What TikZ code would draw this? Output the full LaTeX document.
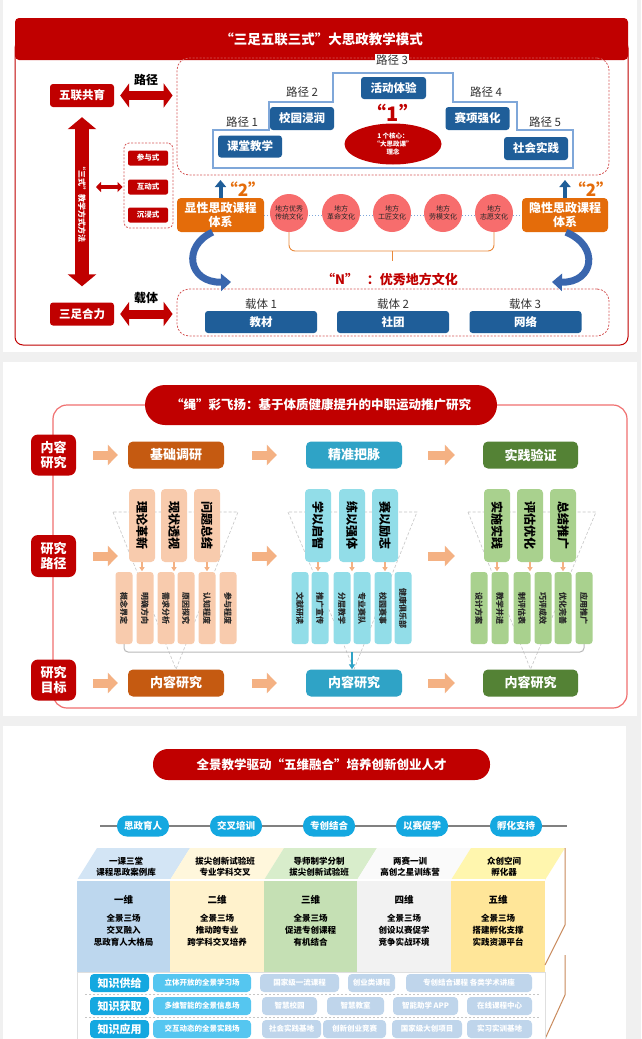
\documentclass[tikz,border=0pt]{standalone}
\usepackage{fontspec}
\setmainfont{Noto Sans CJK SC}
\usetikzlibrary{positioning,arrows.meta,shapes.geometric}

\definecolor{deepred}{HTML}{C00000}
\definecolor{pathblue}{HTML}{1F5E99}
\definecolor{stairblue}{HTML}{7FA7D9}
\definecolor{sysorange}{HTML}{E46C0A}
\definecolor{culturered}{HTML}{F76D6D}
\definecolor{curveblue}{HTML}{3A66AE}
\definecolor{outlinepink}{HTML}{F07070}
\definecolor{rustorange}{HTML}{C55A11}
\definecolor{paleorange}{HTML}{F8CBAD}
\definecolor{arroworange}{HTML}{F4B183}
\definecolor{tealbox}{HTML}{2FA3C6}
\definecolor{palecyan}{HTML}{92DDE8}
\definecolor{mossgreen}{HTML}{548235}
\definecolor{palegreen}{HTML}{A9D18E}
\definecolor{skyblue}{HTML}{14A8E0}
\definecolor{lightsky}{HTML}{55C6F0}
\definecolor{mistblue}{HTML}{BFD5EB}
\definecolor{cubebrown}{HTML}{C98A5C}
\definecolor{pagegray}{HTML}{F0F0F0}
\definecolor{topblue}{HTML}{D3E5F5}
\definecolor{frontblue}{HTML}{BDD7EE}
\definecolor{topcream}{HTML}{FFF7DC}
\definecolor{frontcream}{HTML}{FFF2CC}
\definecolor{topgreen}{HTML}{D8EDCB}
\definecolor{frontgreen}{HTML}{C5E0B4}
\definecolor{topgray}{HTML}{FAFAFA}
\definecolor{frontgray}{HTML}{F2F2F2}
\definecolor{topyellow}{HTML}{FFF6AE}
\definecolor{frontyellow}{HTML}{FFE699}

\newcommand{\fsz}[2]{\fontsize{#1}{#2}\selectfont}

\begin{document}
\begin{tikzpicture}[x=1pt, y=-1pt,
    redbox/.style={rectangle, rounded corners=3pt, fill=deepred, text=white, font=\fsz{11.5}{13}\bfseries, minimum width=64pt, minimum height=23pt, inner sep=0pt},
    bluebox/.style={rectangle, rounded corners=3pt, fill=pathblue, text=white, font=\fsz{11.5}{13}\bfseries, minimum width=64pt, minimum height=22pt, inner sep=0pt},
    smallred/.style={rectangle, rounded corners=2pt, fill=deepred, text=white, font=\fsz{7.5}{8}\bfseries, minimum width=40pt, minimum height=15pt, inner sep=0pt},
    dashzone/.style={rectangle, draw=deepred!65, dash pattern=on 2pt off 1.5pt, line width=0.8pt, rounded corners=12pt, inner sep=0pt},
    pathlabel/.style={font=\fsz{11.5}{13}, text=black!80, inner sep=1pt},
    orangebox/.style={rectangle, rounded corners=4pt, fill=sysorange, text=white, font=\fsz{12}{14}\bfseries, align=center, minimum width=87pt, minimum height=34pt, inner sep=0pt},
    culture/.style={circle, fill=culturered, minimum size=38pt, inner sep=0pt, font=\fsz{7}{8}, text=black!85, align=center},
    twolabel/.style={text=sysorange, font=\fsz{17}{17}\bfseries\itshape},
    redarrow/.style={draw=deepred, line width=9pt, {Triangle[width=24pt,length=9pt]}-{Triangle[width=24pt,length=9pt]}},
    bigvarrow/.style={draw=deepred, line width=14pt, {Triangle[width=28pt,length=12pt]}-{Triangle[width=28pt,length=12pt]}},
    smallarrow/.style={draw=deepred, line width=3.5pt, {Triangle[width=10pt,length=5pt]}-{Triangle[width=10pt,length=5pt]}},
    uparrow/.style={draw=pathblue, line width=4pt, -{Triangle[width=11pt,length=7pt]}},
    curvearrow/.style={draw=curveblue, line width=7pt, -{Triangle[width=17pt,length=10pt]}},
    goalbox/.style={rectangle, rounded corners=7pt, fill=deepred, text=white, font=\fsz{13}{15}\bfseries, align=center, minimum width=45pt, minimum height=41pt, inner sep=0pt},
    stagebox/.style={rectangle, rounded corners=5pt, text=white, font=\fsz{13}{15}\bfseries, minimum width=96pt, minimum height=27pt, inner sep=0pt},
    tallbox/.style={rectangle, rotate=-90, rounded corners=4pt, font=\fsz{12}{13}\bfseries, text=black, minimum width=73pt, minimum height=26pt, inner sep=0pt},
    slimbox/.style={rectangle, rotate=-90, rounded corners=3pt, font=\fsz{8}{9}\bfseries, text=black!85, minimum width=72pt, minimum height=17pt, inner sep=0pt},
    fatarrow/.style={draw=arroworange, line width=9pt, -{Triangle[width=20pt,length=10pt]}},
    tinyarrow/.style={draw=arroworange, line width=1.5pt, -{Triangle[width=5pt,length=4pt]}},
    funnel/.style={draw=gray!45, dash pattern=on 3pt off 2pt, line width=0.6pt},
    pill/.style={rectangle, rounded corners=10pt, fill=skyblue, text=white, font=\fsz{9.5}{11}\bfseries, minimum width=52pt, minimum height=21pt, inner sep=0pt},
    rowhead/.style={rectangle, rounded corners=4pt, fill=skyblue, text=white, font=\fsz{11}{12}\bfseries, minimum width=59pt, minimum height=18pt, inner sep=0pt},
    rowfield/.style={rectangle, rounded corners=4pt, fill=lightsky, text=white, font=\fsz{7.5}{8}\bfseries, minimum width=98pt, minimum height=18pt, inner sep=0pt},
    rowitem/.style={rectangle, rounded corners=4pt, fill=mistblue, text=white, font=\fsz{7.5}{8}\bfseries, minimum height=18pt, inner sep=0pt},
    ]
    \tikzstyle{every node}=[font=\fsz{11}{13}]
    \clip (0,0) rectangle (641,1039);
    %Cards
    \fill[pagegray] (0,0) rectangle (641,1039);
    \fill[white] (3,0) rectangle (637,352);
    \fill[white] (3,362) rectangle (637,716);
    \fill[white] (3,726) rectangle (626,1039);

    %Panel 1
    \draw[deepred, line width=1pt, rounded corners=8pt] (15,40) rectangle (628,345);
    \node[fill=deepred, rounded corners=4pt, minimum width=613pt, minimum height=42pt, text=white, font=\fsz{13.5}{15}\bfseries] (title1) at (321.5,39) {“三足五联三式”大思政教学模式};
    \node[redbox]      (wulian)   at (82,95.5) {五联共育};
    \node[redbox]      (sanzu)    at (82,314) {三足合力};
    \node[pathlabel, font=\fsz{12}{13}\bfseries, text=black] (lujinglab) at (146,80) {路径};
    \node[pathlabel, font=\fsz{12}{13}\bfseries, text=black] (zaitilab)  at (146,298) {载体};
    \node[dashzone, minimum width=432pt, minimum height=117pt] (pathzone) at (393,116.5) {};
    \node[dashzone, minimum width=432pt, minimum height=47pt] (carrierzone) at (393,312.5) {};
    \node[dashzone, minimum width=49pt, minimum height=85pt, rounded corners=5pt] (stylezone) at (148.5,185.5) {};
    \node[smallred]    (canyu)    at (148,158) {参与式};
    \node[smallred]    (hudong)   at (148,187) {互动式};
    \node[smallred]    (chenjin)  at (148,215) {沉浸式};
    \draw[redarrow, shorten <=6pt, shorten >=4pt] (wulian.east) -- (pathzone.west |- wulian.east);
    \draw[redarrow, shorten <=6pt, shorten >=4pt] (sanzu.east) -- (carrierzone.west |- sanzu.east);
    \draw[bigvarrow, shorten <=10pt, shorten >=16pt] (wulian.south) -- (sanzu.north);
    \node[rotate=-90, text=white, font=\fsz{8}{9}\bfseries] (sanshi) at (82,202) {“三式”教学方式方法};
    \coordinate (sjoin) at (96,187);
    \draw[smallarrow, shorten >=1pt] (sjoin) -- (stylezone.west |- sjoin);

    % stairs of the five paths
    \draw[stairblue, line width=1.2pt, fill=white] (213,168) -- (213,130) -- (269,130) -- (269,102) -- (333,102) -- (333,73) -- (453,73) -- (453,102) -- (517,102) -- (517,130) -- (573,130) -- (573,168) -- cycle;
    \node[bluebox] (ketang)   at (250,146.5) {课堂教学};
    \node[bluebox, minimum height=23pt] (xiaoyuan) at (302,118.5) {校园浸润};
    \node[bluebox, minimum width=65pt] (huodong)  at (393.5,88) {活动体验};
    \node[bluebox, minimum height=23pt] (saixiang) at (477.5,118.5) {赛项强化};
    \node[bluebox, minimum height=23pt] (shehui)   at (536,148.5) {社会实践};
    \node[pathlabel] (lj1) at (242,122) {路径 1};
    \node[pathlabel] (lj2) at (302,92) {路径 2};
    \node[pathlabel, fill=white] (lj3) at (392,60) {路径 3};
    \node[pathlabel] (lj4) at (486,92) {路径 4};
    \node[pathlabel] (lj5) at (545,122) {路径 5};
    \node[text=deepred, font=\fsz{20}{20}\bfseries\itshape] (one) at (393,113) {“1”};
    \node[ellipse, fill=deepred, minimum width=97pt, minimum height=41pt, inner sep=0pt, text=white, font=\fsz{6.5}{8}\bfseries, align=center] (core) at (393,144) {1 个核心：\\“大思政课”\\理念};

    % course systems and local culture
    \node[orangebox] (xianxing) at (220.5,215) {显性思政课程\\体系};
    \node[orangebox, minimum width=86pt] (yinxing) at (565,215) {隐性思政课程\\体系};
    \coordinate (upl) at (220.5,180);
    \coordinate (upr) at (565,180);
    \draw[uparrow] (xianxing.north) -- (upl);
    \draw[uparrow] (yinxing.north) -- (upr);
    \node[twolabel] (twol) at (243,189) {“2”};
    \node[twolabel] (twor) at (591,189) {“2”};
    \draw[stairblue, dotted, line width=1pt] (xianxing.east) -- (yinxing.west);
    \node[culture] (cult1) at (289,213) {地方优秀\\传统文化};
    \node[culture] (cult2) at (341,213) {地方\\革命文化};
    \node[culture] (cult3) at (392,213) {地方\\工匠文化};
    \node[culture] (cult4) at (443,213) {地方\\劳模文化};
    \node[culture] (cult5) at (494,213) {地方\\志愿文化};
    \coordinate (bracetip) at (392,251);
    \draw[sysorange!80, line width=0.9pt, rounded corners=6pt] (cult1.south) |- (bracetip);
    \draw[sysorange!80, line width=0.9pt, rounded corners=6pt] (cult5.south) |- (bracetip);
    \draw[sysorange!80, line width=0.9pt] (bracetip) -- ++(0,10);
    \node[text=deepred, font=\fsz{13}{15}\bfseries] (ncult) at (390,279) {“N”\ \ \ ：优秀地方文化};
    \coordinate (curvel) at (231,282);
    \coordinate (curver) at (552,282);
    \draw[curvearrow] ([xshift=-8pt]xianxing.south) .. controls (182,246) and (188,283) .. (curvel);
    \draw[curvearrow] ([xshift=1pt]yinxing.south) .. controls (600,246) and (594,283) .. (curver);

    % carriers
    \node[pathlabel] (zt1) at (261,304) {载体 1};
    \node[pathlabel] (zt2) at (393,304) {载体 2};
    \node[pathlabel] (zt3) at (525,304) {载体 3};
    \node[bluebox, minimum width=112pt] (jiaocai) at (261,322) {教材};
    \node[bluebox, minimum width=112pt] (shetuan) at (393,322) {社团};
    \node[bluebox, minimum width=112pt] (wangluo) at (525.5,322) {网络};

    %Panel 2
    \draw[outlinepink, line width=1.2pt, rounded corners=14pt] (53,405) rectangle (627,708);
    \node[fill=deepred, rounded corners=20pt, minimum width=352pt, minimum height=40pt, text=white, font=\fsz{12.5}{14}\bfseries] (title2) at (321,405) {“绳”彩飞扬：基于体质健康提升的中职运动推广研究};
    \node[goalbox] (neirong) at (53.5,455) {内容\\研究};
    \node[goalbox, minimum height=42pt] (lujing) at (53.5,556) {研究\\路径};
    \node[goalbox] (mubiao) at (53.5,680) {研究\\目标};
    \node[stagebox, fill=rustorange] (jichu)    at (176,455) {基础调研};
    \node[stagebox, fill=tealbox]    (jingzhun) at (354,455) {精准把脉};
    \node[stagebox, fill=mossgreen, minimum width=95pt] (shijian) at (530.5,455) {实践验证};
    \node[stagebox, fill=rustorange] (resA) at (176,683) {内容研究};
    \node[stagebox, fill=tealbox]    (resB) at (354,683) {内容研究};
    \node[stagebox, fill=mossgreen, minimum width=95pt] (resC) at (530.5,683) {内容研究};
    \draw[funnel] (113,512) -- (resA.north) -- (238,512) -- cycle;
    \draw[funnel] (288,512) -- (resB.north) -- (417,512) -- cycle;
    \draw[funnel] (468,512) -- (resC.north) -- (596,512) -- cycle;
    \node[tallbox, fill=paleorange] (lilun)      at (142,525.5) {理论革新};
    \node[tallbox, fill=paleorange] (xianzhuang) at (174,525.5) {现状透视};
    \node[tallbox, fill=paleorange] (wenti)      at (207,525.5) {问题总结};
    \node[tallbox, fill=palecyan]   (xueyi)      at (318,525.5) {学以启智};
    \node[tallbox, fill=palecyan]   (lianyi)     at (352,525.5) {练以强体};
    \node[tallbox, fill=palecyan]   (saiyi)      at (385,525.5) {赛以励志};
    \node[tallbox, fill=palegreen]  (shishi)     at (497,525.5) {实施实践};
    \node[tallbox, fill=palegreen]  (pinggu)     at (530,525.5) {评估优化};
    \node[tallbox, fill=palegreen]  (zongjie)    at (563,525.5) {总结推广};
    \foreach \x/\n/\t in {124/oa/概念界定, 145/ob/明确方向, 166/oc/需求分析, 186/od/原因探究, 207/oe/认知程度, 228/of/参与程度}
        \node[slimbox, fill=paleorange] (\n) at (\x,608) {\t};
    \foreach \x/\n/\t in {300/ca/文献研读, 320/cb/推广宣传, 342/cc/分层教学, 362/cd/专业赛队, 383/ce/校园赛事, 403/cf/健康俱乐部}
        \node[slimbox, fill=palecyan] (\n) at (\x,608) {\t};
    \foreach \x/\n/\t in {479/ga/设计方案, 500/gb/教学并进, 522/gc/制评估表, 543/gd/巧评成效, 563/ge/优化完善, 584/gf/应用推广}
        \node[slimbox, fill=palegreen] (\n) at (\x,608) {\t};
    \foreach \n in {lilun, xianzhuang, wenti, xueyi, lianyi, saiyi, shishi, pinggu, zongjie}
        \draw[tinyarrow] (\n.east) -- ++(0,9);
    \coordinate (bracket) at (352,652);
    \draw[gray!55, line width=1pt, rounded corners=4pt] (oa.east) |- (bracket) -| (gf.east);
    \draw[tealbox, line width=1.5pt, -{Triangle[width=6pt,length=5pt]}] (bracket) -- (bracket |- resB.north);
    %Orange arrows
    \draw[fatarrow, shorten <=17pt, shorten >=10pt] (neirong.east) -- (jichu.west);
    \draw[fatarrow, shorten <=28pt, shorten >=29pt] (jichu.east) -- (jingzhun.west);
    \draw[fatarrow, shorten <=26pt, shorten >=28pt] (jingzhun.east) -- (shijian.west);
    \draw[fatarrow, shorten <=17pt, shorten >=11pt] (lujing.east) -- (lujing.east -| lilun.south);
    \draw[fatarrow, shorten <=32pt, shorten >=28pt] (wenti.north |- lujing.east) -- (xueyi.south |- lujing.east);
    \draw[fatarrow, shorten <=30pt, shorten >=29pt] (saiyi.north |- lujing.east) -- (shishi.south |- lujing.east);
    \draw[fatarrow, shorten <=17pt, shorten >=10pt] (mubiao.east |- resA.west) -- (resA.west);
    \draw[fatarrow, shorten <=28pt, shorten >=29pt] (resA.east) -- (resB.west);
    \draw[fatarrow, shorten <=26pt, shorten >=28pt] (resB.east) -- (resC.west);

    %Panel 3
    \node[fill=deepred, rounded corners=15pt, minimum width=337pt, minimum height=31pt, text=white, font=\fsz{12.5}{14}\bfseries] (title3) at (321.5,764.5) {全景教学驱动“五维融合”培养创新创业人才};
    \coordinate (lineL) at (100,826);
    \coordinate (lineR) at (567,826);
    \draw[gray, line width=1.2pt] (lineL) -- (lineR);
    \node[pill] (sizheng) at (143,826) {思政育人};
    \node[pill] (jiaocha) at (236,826) {交叉培训};
    \node[pill] (zhuanchuang) at (329,826) {专创结合};
    \node[pill] (yisai) at (422,826) {以赛促学};
    \node[pill] (fuhua) at (516,826) {孵化支持};
    % cube faces
    \foreach \xa/\xb/\ct/\cf in {77/170/topblue/frontblue, 170/264/topcream/frontcream, 264/357/topgreen/frontgreen, 357/451/topgray/frontgray, 451/545/topyellow/frontyellow}{
        \fill[\ct] (\xa,880) -- (\xa+20,848) -- (\xb+20,848) -- (\xb,880) -- cycle;
        \fill[\cf] (\xa,880) rectangle (\xb,972);
    }
    \draw[white, line width=1.5pt] (77,880) -- (545,880);
    \draw[cubebrown, line width=1pt] (565,848) -- (565,925) -- (545,965);
    \draw[cubebrown, line width=1pt] (565,955) -- (565,995) -- (545,1039);
    \node[font=\fsz{8.5}{11}\bfseries, align=center] (top1) at (126,867) {一课三堂\\课程思政案例库};
    \node[font=\fsz{8.5}{11}\bfseries, align=center] (top2) at (225,867) {拔尖创新试验班\\专业学科交叉};
    \node[font=\fsz{8.5}{11}\bfseries, align=center] (top3) at (319,867) {导师制学分制\\拔尖创新试验班};
    \node[font=\fsz{8.5}{11}\bfseries, align=center] (top4) at (410,867) {两赛一训\\高创之星训练营};
    \node[font=\fsz{8.5}{11}\bfseries, align=center] (top5) at (504,867) {众创空间\\孵化器};
    \node[font=\fsz{9.5}{11}\bfseries] (dim1) at (123.5,900) {一维};
    \node[font=\fsz{9.5}{11}\bfseries] (dim2) at (217,900) {二维};
    \node[font=\fsz{9.5}{11}\bfseries] (dim3) at (310.5,900) {三维};
    \node[font=\fsz{9.5}{11}\bfseries] (dim4) at (404,900) {四维};
    \node[font=\fsz{9.5}{11}\bfseries] (dim5) at (498,900) {五维};
    \node[font=\fsz{8.5}{12}\bfseries, align=center] (desc1) at (123.5,930) {全景三场\\交叉融入\\思政育人大格局};
    \node[font=\fsz{8.5}{12}\bfseries, align=center] (desc2) at (217,930) {全景三场\\推动跨专业\\跨学科交叉培养};
    \node[font=\fsz{8.5}{12}\bfseries, align=center] (desc3) at (310.5,930) {全景三场\\促进专创课程\\有机结合};
    \node[font=\fsz{8.5}{12}\bfseries, align=center] (desc4) at (404,930) {全景三场\\创设以赛促学\\竞争实战环境};
    \node[font=\fsz{8.5}{12}\bfseries, align=center] (desc5) at (498,930) {全景三场\\搭建孵化支撑\\实践资源平台};
    % knowledge rows
    \draw[gray!25, fill=white] (77,972) rectangle (545,1050);
    \draw[gray!45, dash pattern=on 2pt off 2pt] (85,994) -- (540,994);
    \draw[gray!45, dash pattern=on 2pt off 2pt] (85,1017.5) -- (540,1017.5);
    \node[rowhead]  (gongji) at (119.5,983) {知识供给};
    \node[rowfield] (xuexi)  at (202,983) {立体开放的全景学习场};
    \node[rowitem, minimum width=79pt]  (yiliu)   at (299.5,983) {国家级一流课程};
    \node[rowitem, minimum width=47pt]  (chuangye) at (371.5,983) {创业类课程};
    \node[rowitem, minimum width=126pt] (jiangzuo) at (469,983) {专创结合课程 各类学术讲座};
    \node[rowhead]  (huoqu)  at (119.5,1006) {知识获取};
    \node[rowfield] (xinxi)  at (202,1006) {多维智能的全景信息场};
    \node[rowitem, minimum width=55pt] (zhxiaoyuan) at (289.5,1006) {智慧校园};
    \node[rowitem, minimum width=57pt] (zhjiaoshi)  at (355.5,1006) {智慧教室};
    \node[rowitem, minimum width=65pt] (zhuxue)     at (425.5,1006) {智能助学 APP};
    \node[rowitem, minimum width=65pt] (zaixian)    at (499.5,1006) {在线课程中心};
    \node[rowhead]  (yingyong) at (119.5,1029) {知识应用};
    \node[rowfield] (shijianchang) at (202,1029) {交互动态的全景实践场};
    \node[rowitem, minimum width=59pt] (shijidi)  at (291.5,1029) {社会实践基地};
    \node[rowitem, minimum width=63pt] (jingsai)  at (354.5,1029) {创新创业竞赛};
    \node[rowitem, minimum width=70pt] (dachuang) at (427,1029) {国家级大创项目};
    \node[rowitem, minimum width=65pt] (shixun)   at (499.5,1029) {实习实训基地};
\end{tikzpicture}
\end{document}
